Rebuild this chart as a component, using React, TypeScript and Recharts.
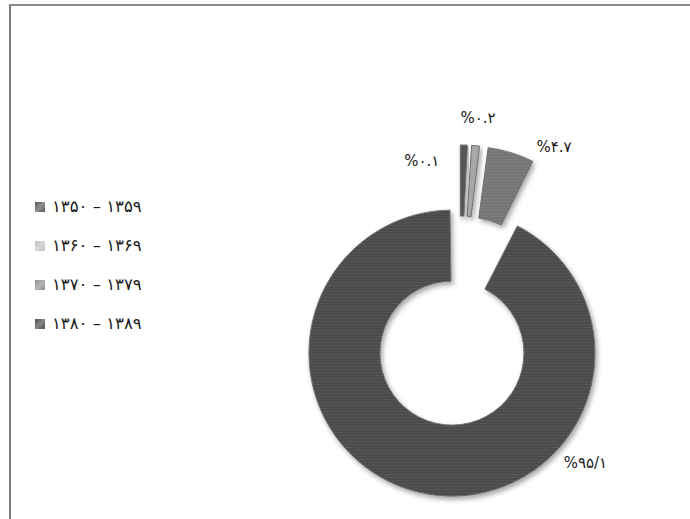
import React from 'react';
import { PieChart, Pie, Cell, Legend, Sector } from 'recharts';

// decade buckets (Persian calendar) and their share of the total
const periods = ['۱۳۵۰ – ۱۳۵۹', '۱۳۶۰ – ۱۳۶۹', '۱۳۷۰ – ۱۳۷۹', '۱۳۸۰ – ۱۳۸۹'];
const shares = [0.1, 0.2, 4.7, 95.1];
const shareLabels = ['%۰.۱', '%۰.۲', '%۴.۷', '%۹۵/۱'];

const sliceColors = ['#535353', '#a6a6a6', '#767676', '#4b4b4b'];
const swatchColors = ['#585858', '#c2c2c2', '#8e8e8e', '#4a4a4a'];
// every slice pulled out from the centre by the same amount
const EXPLODE = 33;
// label placement, polar around the pie centre (deg clockwise from 12 o'clock)
const labelAngle = [-13.3, 5.2, 28.5, 138.5];
const labelRadius = [164, 204, 198, 190];

const data = periods.map((name, i) => ({ name, value: shares[i], text: shareLabels[i] }));

const fontFamily = "'DejaVu Sans', sans-serif";
// the vertical legend on the left takes this much of the plot width
const LEGEND_W = 160;
const MARGIN = 5;

const ExplodedSector = (props: any) => {
  const rad = (props.midAngle * Math.PI) / 180;
  return (
    <Sector
      {...props}
      cx={props.cx + EXPLODE * Math.cos(rad)}
      cy={props.cy - EXPLODE * Math.sin(rad)}
    />
  );
};

const renderLabel = (props: any) => {
  const idx = props.index;
  const a = (labelAngle[idx] * Math.PI) / 180;
  const x = props.cx + labelRadius[idx] * Math.sin(a);
  const y = props.cy - labelRadius[idx] * Math.cos(a);
  return (
    <text
      x={x}
      y={y}
      textAnchor="middle"
      dominantBaseline="central"
      direction="ltr"
      style={{ fontFamily, fontSize: 15, fill: '#1a1a1a' }}
    >
      {shareLabels[idx]}
    </text>
  );
};

const LegendList = () => (
  <div style={{ display: 'flex', flexDirection: 'column', fontFamily }}>
    {periods.map((p, i) => (
      <div key={p} style={{ height: 39, display: 'flex', alignItems: 'center', gap: 7 }}>
        <span
          style={{
            display: 'inline-block',
            width: 10,
            height: 10,
            background: `linear-gradient(135deg, ${swatchColors[i]} 0%, #ffffff55 50%, ${swatchColors[i]} 100%)`,
            backgroundColor: swatchColors[i],
          }}
        />
        <span style={{ fontSize: 16.5, color: '#1a1a1a', direction: 'ltr' }}>{p}</span>
      </div>
    ))}
  </div>
);

export default function App() {
  return (
    <div
      style={{
        position: 'absolute',
        left: 0,
        top: 0,
        width: 690,
        height: 519,
        overflow: 'hidden',
        background: '#ffffff',
      }}
    >
      <div
        style={{
          position: 'absolute',
          left: 9,
          top: 4,
          width: 700,
          height: 540,
          borderLeft: '2px solid #7f7f7f',
          borderTop: '2px solid #8a8a8a',
        }}
      />
      <div style={{ position: 'absolute', left: 0, top: 0 }}>
        <PieChart width={690} height={519} margin={{ top: MARGIN, right: MARGIN, bottom: MARGIN, left: MARGIN }}>
          <defs>
            <filter id="sliceShadow" x="-20%" y="-20%" width="140%" height="140%">
              <feDropShadow dx="2" dy="3" stdDeviation="2.5" floodColor="#000" floodOpacity="0.35" />
            </filter>
            {sliceColors.map((c, i) => (
              <pattern key={i} id={`stripe${i}`} width="8" height="3" patternUnits="userSpaceOnUse">
                <rect width="8" height="3" fill={c} />
                <rect width="8" height="0.7" fill="#ffffff" opacity="0.07" />
              </pattern>
            ))}
          </defs>
          <Pie
            data={data}
            dataKey="value"
            nameKey="name"
            cx={459.5 - LEGEND_W - MARGIN}
            cy={321 - MARGIN}
            innerRadius={72}
            outerRadius={143}
            startAngle={90}
            endAngle={-270}
            minAngle={2.5}
            paddingAngle={0.8}
            stroke="#6f6f6f"
            strokeWidth={1}
            shape={ExplodedSector}
            activeShape={ExplodedSector}
            inactiveShape={ExplodedSector}
            label={renderLabel}
            labelLine={false}
            isAnimationActive={false}
          >
            {data.map((d, i) => (
              <Cell key={d.name} fill={`url(#stripe${i})`} filter="url(#sliceShadow)" />
            ))}
          </Pie>
          <Legend
            layout="vertical"
            align="left"
            verticalAlign="top"
            width={LEGEND_W}
            wrapperStyle={{ left: 35, top: 187, width: LEGEND_W }}
            content={<LegendList />}
          />
        </PieChart>
      </div>
    </div>
  );
}
